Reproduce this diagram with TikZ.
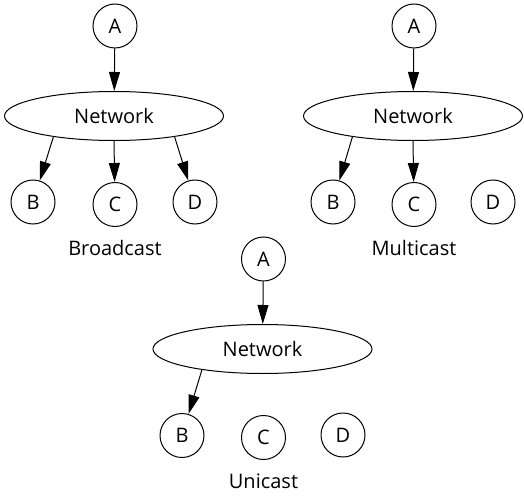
\documentclass[tikz,border=0pt]{standalone}
\usepackage{fontspec}
\setmainfont{Open Sans}
\usetikzlibrary{shapes.geometric,arrows.meta}
\begin{document}
\begin{tikzpicture}
	[x=1pt,y=-1pt,
	host/.style={circle,draw,line width=1pt,minimum size=44pt,inner sep=0pt},
	net/.style={ellipse,draw,line width=1pt,minimum width=219pt,minimum height=49pt,inner sep=0pt},
	every node/.style={font=\fontsize{20}{24}\selectfont},
	>={Triangle[length=19pt,width=11pt]}]
	\useasboundingbox (0,0) rectangle (524,497);
	% broadcast
	\node[host,name=a1]at(115,26){A};
	\node[net,name=n1]at(114,116){Network};
	\node[host,name=b1]at(33,202){B};
	\node[host,name=c1]at(115,204.5){C};
	\node[host,name=d1]at(195,202){D};
	\node[name=l1]at(115,248){Broadcast};
	\draw[->,line width=1pt](a1)--(n1);
	\draw[->,line width=1pt](n1.199)--(b1);
	\draw[->,line width=1pt](n1.south)--(c1);
	\draw[->,line width=1pt](n1.341)--(d1);
	% multicast
	\node[host,name=a2]at(414,26){A};
	\node[net,name=n2]at(413,116){Network};
	\node[host,name=b2]at(333,202){B};
	\node[host,name=c2]at(414,204.5){C};
	\node[host,name=d2]at(493,202){D};
	\node[name=l2]at(414,248){Multicast};
	\draw[->,line width=1pt](a2)--(n2);
	\draw[->,line width=1pt](n2.199)--(b2);
	\draw[->,line width=1pt](n2.south)--(c2);
	% unicast
	\node[host,name=a3]at(263.5,259){A};
	\node[net,name=n3]at(262.5,349){Network};
	\node[host,name=b3]at(182,435.5){B};
	\node[host,name=c3]at(263.5,437.5){C};
	\node[host,name=d3]at(343,435){D};
	\node[name=l3]at(263.5,481.5){Unicast};
	\draw[->,line width=1pt](a3)--(n3);
	\draw[->,line width=1pt](n3.199)--(b3);
\end{tikzpicture}
\end{document}
